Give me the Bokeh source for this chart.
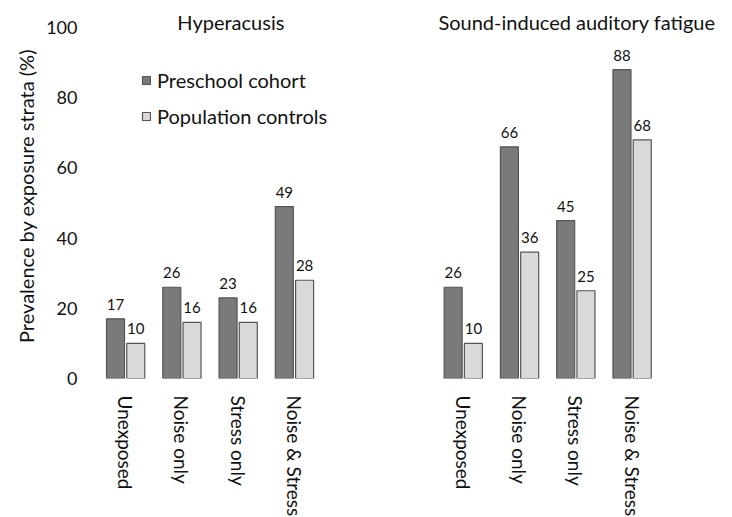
from bokeh.plotting import figure
from bokeh.models import ColumnDataSource, Label, Legend, LegendItem, FixedTicker, Range1d
from bokeh.embed import file_html
from bokeh.resources import INLINE

panels = ["Hyperacusis", "Sound-induced auditory fatigue"]
strata = ["Unexposed", "Noise only", "Stress only", "Noise & Stress"]
preschool_hyperacusis = [17, 26, 23, 49]
controls_hyperacusis = [10, 16, 16, 28]
preschool_fatigue = [26, 66, 45, 88]
controls_fatigue = [10, 36, 25, 68]
series_names = ["Preschool cohort", "Population controls"]
y_ticks = [0, 20, 40, 60, 80, 100]

FONT = "Lato"
DARK = "#7a7a7a"
LIGHT = "#d9d9d9"
EDGE = "#555555"
TXT = "#111111"

# category slots: each panel holds len(strata) slots, panels separated by a gap of 2 slots
n = len(strata)
panel_step = n + 2
centers = [gi * panel_step + si + 0.5 for gi in range(len(panels)) for si in range(n)]
names = strata * len(panels)
pre = preschool_hyperacusis + preschool_fatigue
ctl = controls_hyperacusis + controls_fatigue

off = 0.18
bar_w = 0.32
src = ColumnDataSource(data=dict(
    xp=[c - off for c in centers], xc=[c + off for c in centers],
    pre=pre, ctl=ctl,
    pre_t=[str(v) for v in pre], ctl_t=[str(v) for v in ctl],
))

p = figure(x_range=Range1d(0, 11), y_range=Range1d(0, 104),
           frame_width=619, frame_height=365,
           output_backend="svg", toolbar_location=None,
           min_border_left=97, min_border_right=0, min_border_top=13, min_border_bottom=128)

r1 = p.vbar(x="xp", top="pre", width=bar_w, source=src,
            fill_color=DARK, line_color=EDGE, line_width=1.2)
r2 = p.vbar(x="xc", top="ctl", width=bar_w, source=src,
            fill_color=LIGHT, line_color=EDGE, line_width=1.2)

p.text(x="xp", y="pre", text="pre_t", source=src,
       text_align="center", text_baseline="bottom", y_offset=-9,
       text_font_size="15px", text_font={"value": FONT}, text_color=TXT)
p.text(x="xc", y="ctl", text="ctl_t", source=src,
       text_align="center", text_baseline="bottom", y_offset=-9,
       text_font_size="15px", text_font={"value": FONT}, text_color=TXT)

# panel titles
p.add_layout(Label(x=2.37, y=101.7, text=panels[0], text_align="center", text_baseline="middle",
                   text_font=FONT, text_font_size="20px", text_color=TXT))
p.add_layout(Label(x=8.52, y=101.7, text=panels[1], text_align="center", text_baseline="middle",
                   text_font=FONT, text_font_size="20px", text_color=TXT))

legend = Legend(items=[LegendItem(label=series_names[0], renderers=[r1]),
                       LegendItem(label=series_names[1], renderers=[r2])],
                location=(44, 250), orientation="vertical")
legend.background_fill_alpha = 0
legend.border_line_color = None
legend.label_text_font = FONT
legend.label_text_font_size = "20px"
legend.label_text_color = TXT
legend.glyph_width = 10
legend.glyph_height = 10
legend.label_height = 24
legend.spacing = 12
legend.padding = 0
legend.margin = 0
legend.label_standoff = 6
p.add_layout(legend, "center")

p.xgrid.grid_line_color = None
p.ygrid.grid_line_color = None
p.outline_line_color = None

p.yaxis.ticker = FixedTicker(ticks=y_ticks)
p.yaxis.axis_line_color = None
p.yaxis.major_tick_line_color = None
p.yaxis.minor_tick_line_color = None
p.yaxis.major_label_text_font = FONT
p.yaxis.major_label_text_font_size = "18px"
p.yaxis.major_label_text_color = TXT
p.yaxis.major_label_standoff = 14
p.yaxis.axis_label = "Prevalence by exposure strata (%)"
p.yaxis.axis_label_text_font = FONT
p.yaxis.axis_label_text_font_size = "20px"
p.yaxis.axis_label_text_font_style = "normal"
p.yaxis.axis_label_text_color = TXT
p.yaxis.axis_label_standoff = 5

p.xaxis.ticker = FixedTicker(ticks=centers)
p.xaxis.major_label_overrides = {c: nm for c, nm in zip(centers, names)}
p.xaxis.axis_line_color = None
p.xaxis.major_tick_line_color = None
p.xaxis.minor_tick_line_color = None
p.xaxis.major_label_orientation = "vertical"
p.xaxis.major_label_text_font = FONT
p.xaxis.major_label_text_font_size = "19px"
p.xaxis.major_label_text_color = TXT
p.xaxis.major_label_standoff = 11

open("out.html", "w").write(file_html(p, INLINE))
